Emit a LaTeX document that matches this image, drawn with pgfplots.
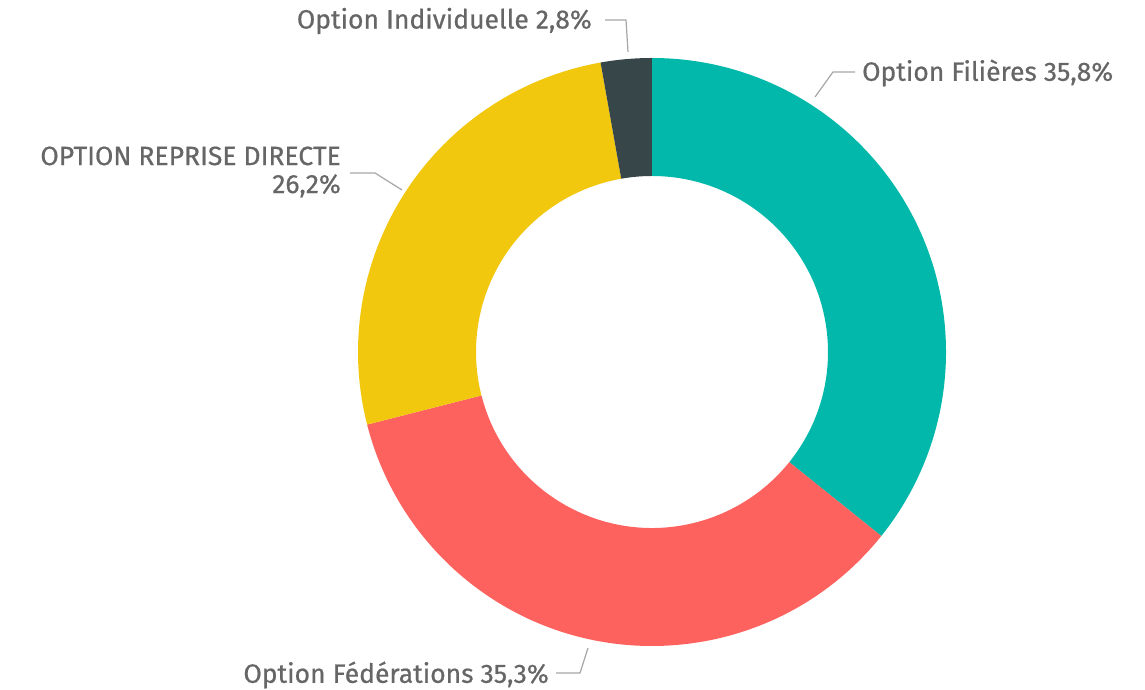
\documentclass[border=0pt]{standalone}
\usepackage{pgfplots}
\pgfplotsset{compat=1.18}
\usepackage{fontspec}
\setmainfont{Fira Sans}
\newfontfamily\lbl{Fira Sans}[FakeBold=0.6]
\definecolor{cFil}{HTML}{01B8AA}
\definecolor{cFed}{HTML}{FD625E}
\definecolor{cRep}{HTML}{F2C80F}
\definecolor{cInd}{HTML}{374649}
\definecolor{txt}{HTML}{666666}
\definecolor{lead}{HTML}{A6A6A6}
\begin{document}
\begin{tikzpicture}
\begin{axis}[
  scale only axis, width=1145pt, height=690pt,
  xmin=0, xmax=1145, ymin=0, ymax=690,
  hide axis, clip=false,
]
\addplot[draw=none] coordinates {(0,0) (1145,690)};
\pgfplotsextra{
  \gdef\angstart{90}
  \foreach \v/\c in {35.8/cFil, 35.3/cFed, 26.2/cRep, 2.8/cInd}{
    \pgfmathsetmacro\angend{\angstart - \v/100.1*360}
    \fill[\c] ([shift={(\angstart:294pt)}]axis cs:652,338)
      arc[start angle=\angstart, end angle=\angend, radius=294pt]
      -- ([shift={(\angend:176pt)}]axis cs:652,338)
      arc[start angle=\angend, end angle=\angstart, radius=176pt] -- cycle;
    \xdef\angstart{\angend}
  }
}
\draw[lead, line width=1.2pt] (axis cs:605,670) -- (axis cs:626,670) -- (axis cs:628,638);
\draw[lead, line width=1.2pt] (axis cs:815,593) -- (axis cs:833,618) -- (axis cs:855,618);
\draw[lead, line width=1.2pt] (axis cs:350,517) -- (axis cs:375,517) -- (axis cs:402,500);
\draw[lead, line width=1.2pt] (axis cs:556,17) -- (axis cs:580,17) -- (axis cs:588,42);
\begin{scope}[every node/.style={text=txt, font=\lbl\fontsize{26.5}{28}\selectfont, inner sep=0pt}]
\node[anchor=east] at (axis cs:592,669) {Option Individuelle 2,8\%};
\node[anchor=west] at (axis cs:862,617) {Option Filières 35,8\%};
\node[anchor=east, align=right] at (axis cs:341,518) {OPTION REPRISE DIRECTE\\26,2\%};
\node[anchor=east] at (axis cs:549,15) {Option Fédérations 35,3\%};
\end{scope}
\end{axis}
\end{tikzpicture}
\end{document}
